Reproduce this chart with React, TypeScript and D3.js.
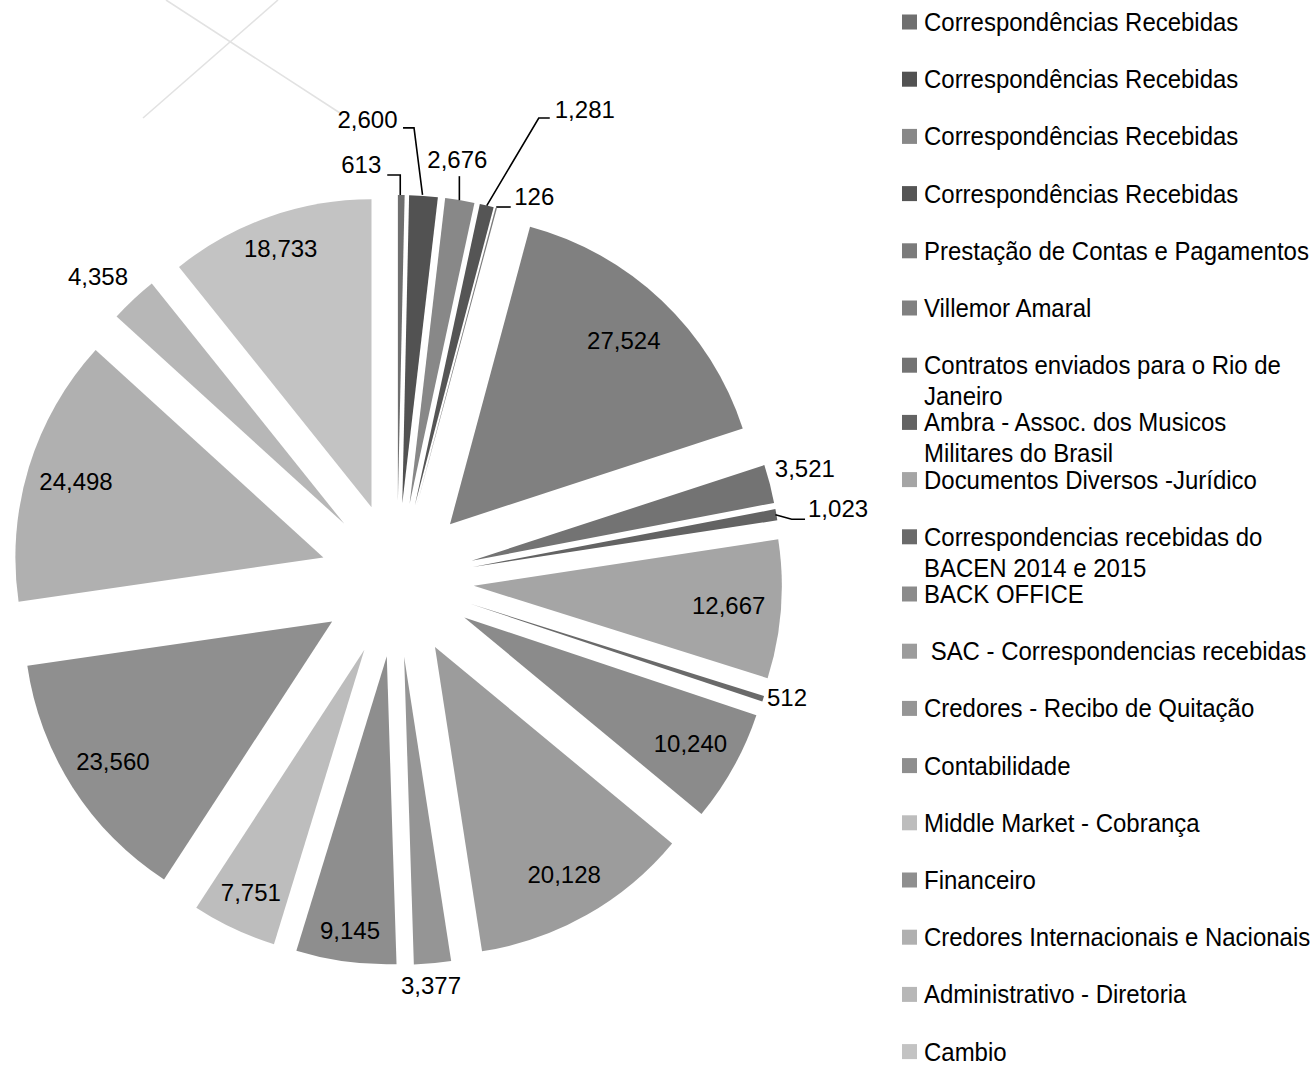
import React from "react";
import * as d3 from "d3";

// ---------- data ----------
const categories: string[] = [
  "Correspondências Recebidas",
  "Correspondências Recebidas",
  "Correspondências Recebidas",
  "Correspondências Recebidas",
  "Prestação de Contas e Pagamentos",
  "Villemor Amaral",
  "Contratos enviados para o Rio de Janeiro",
  "Ambra - Assoc. dos Musicos Militares do Brasil",
  "Documentos Diversos -Jurídico",
  "Correspondencias recebidas do BACEN 2014 e 2015",
  "BACK OFFICE",
  " SAC - Correspondencias recebidas",
  "Credores - Recibo de Quitação",
  "Contabilidade",
  "Middle Market - Cobrança",
  "Financeiro",
  "Credores Internacionais e Nacionais",
  "Administrativo - Diretoria",
  "Cambio",
];

const values: number[] = [
  613, 2600, 2676, 1281, 126, 27524, 3521, 1023, 12667, 512, 10240, 20128,
  3377, 9145, 7751, 23560, 24498, 4358, 18733,
];

// legend lines (wrapped as in the reference)
const legendLines: string[][] = [
  ["Correspondências Recebidas"],
  ["Correspondências Recebidas"],
  ["Correspondências Recebidas"],
  ["Correspondências Recebidas"],
  ["Prestação de Contas e Pagamentos"],
  ["Villemor Amaral"],
  ["Contratos enviados para o Rio de", "Janeiro"],
  ["Ambra - Assoc. dos Musicos", "Militares do Brasil"],
  ["Documentos Diversos -Jurídico"],
  ["Correspondencias recebidas do", "BACEN 2014 e 2015"],
  ["BACK OFFICE"],
  [" SAC - Correspondencias recebidas"],
  ["Credores - Recibo de Quitação"],
  ["Contabilidade"],
  ["Middle Market - Cobrança"],
  ["Financeiro"],
  ["Credores Internacionais e Nacionais"],
  ["Administrativo - Diretoria"],
  ["Cambio"],
];

// ---------- styles ----------
const colors: string[] = [
  "#6f6f6f", "#525252", "#888888", "#555555", "#7b7b7b", "#808080",
  "#737373", "#636363", "#a5a5a5", "#6a6a6a", "#8b8b8b", "#9c9c9c",
  "#959595", "#8e8e8e", "#bdbdbd", "#8f8f8f", "#b0b0b0", "#b7b7b7", "#c3c3c3",
];

type LabelSpec =
  | { kind: "in"; k: number }
  | { kind: "out"; tx: number; ty: number; anchor: string; pts?: number[][] };

// label placement: inside -> fraction of radius from the exploded apex;
// outside -> offsets from the slice's outer-arc midpoint
const labelSpecs: LabelSpec[] = [
  { kind: "out", tx: -20, ty: -30, anchor: "end", pts: [[-1, 0], [-1, -20], [-14, -20]] },
  { kind: "out", tx: -26, ty: -76, anchor: "end", pts: [[-1, -1], [-9.5, -68], [-20.5, -68]] },
  { kind: "out", tx: -2.5, ty: -41, anchor: "middle", pts: [[-0.5, 0], [-0.5, -24]] },
  { kind: "out", tx: 68, ty: -96, anchor: "start", pts: [[0, 0], [52, -87.6], [63, -87.6]] },
  { kind: "out", tx: 18, ty: -11, anchor: "start", pts: [[0, -1], [14.5, -1]] },
  { kind: "in", k: 0.82 },
  { kind: "out", tx: 5, ty: -15, anchor: "start" },
  { kind: "out", tx: 31.6, ty: -5.7, anchor: "start", pts: [[-1, 0], [15.3, 4.6], [28.6, 4.6]] },
  { kind: "in", k: 0.83 },
  { kind: "out", tx: 3.8, ty: -0.8, anchor: "start" },
  { kind: "in", k: 0.84 },
  { kind: "in", k: 0.85 },
  { kind: "out", tx: -1.6, ty: 22.7, anchor: "middle" },
  { kind: "in", k: 0.9 },
  { kind: "in", k: 0.87 },
  { kind: "in", k: 0.845 },
  { kind: "in", k: 0.84 },
  { kind: "out", tx: -5.5, ty: -22.3, anchor: "end" },
  { kind: "in", k: 0.89 },
];

const W = 1314;
const H = 1066;
const CX = 397;
const CY = 580;
const R = 308;
const EXPLODE = 77;
const FONT = "'Liberation Sans', Arial, sans-serif";
const LEGEND_FONT = 25.5;
const LEGEND_SX = 0.94;

const fmt = d3.format(",");

export default function App() {
  const pie = d3
    .pie<number>()
    .sort(null)
    .value((d) => d)
    .startAngle(0)
    .endAngle(2 * Math.PI);
  const arcs = pie(values);
  const arcGen = d3.arc<d3.PieArcDatum<number>>().innerRadius(0).outerRadius(R);

  const legendX = 902;
  const legendY0 = 22;
  const legendStep = 57.2;

  return (
    <svg
      width={W}
      height={H}
      style={{ position: "absolute", left: 0, top: 0, background: "#fff" }}
      fontFamily={FONT}
    >
      {/* faint background decoration */}
      <line x1={143} y1={118} x2={278} y2={0} stroke="#e2e2e2" strokeWidth={1.6} />
      <line x1={166} y1={0} x2={340} y2={113} stroke="#e2e2e2" strokeWidth={1.6} />

      <g transform={`translate(${CX},${CY})`}>
        {arcs.map((a, i) => {
          const mid = (a.startAngle + a.endAngle) / 2;
          const ux = Math.sin(mid);
          const uy = -Math.cos(mid);
          return (
            <path
              key={i}
              d={arcGen(a) || ""}
              transform={`translate(${ux * EXPLODE},${uy * EXPLODE})`}
              fill={colors[i]}
            />
          );
        })}
        {arcs.map((a, i) => {
          const mid = (a.startAngle + a.endAngle) / 2;
          const ux = Math.sin(mid);
          const uy = -Math.cos(mid);
          const spec = labelSpecs[i];
          const text = fmt(values[i]);
          if (spec.kind === "in") {
            const x = ux * (EXPLODE + spec.k * R);
            const y = uy * (EXPLODE + spec.k * R);
            return (
              <text key={`l${i}`} x={x} y={y} dy="0.35em" textAnchor="middle" fontSize={24} fill="#000">
                {text}
              </text>
            );
          }
          const ox = ux * (EXPLODE + R);
          const oy = uy * (EXPLODE + R);
          return (
            <g key={`l${i}`}>
              {spec.pts && (
                <polyline
                  points={spec.pts.map((p) => `${ox + p[0]},${oy + p[1]}`).join(" ")}
                  fill="none"
                  stroke="#000"
                  strokeWidth={1.6}
                />
              )}
              <text
                x={ox + spec.tx}
                y={oy + spec.ty}
                dy="0.35em"
                textAnchor={spec.anchor}
                fontSize={24}
                fill="#000"
              >
                {text}
              </text>
            </g>
          );
        })}
      </g>

      <g>
        {categories.map((c, i) => {
          const cy = legendY0 + i * legendStep;
          return (
            <g key={`g${i}`}>
              <rect x={legendX} y={cy - 7.5} width={15} height={15} fill={colors[i]} />
              {legendLines[i].map((ln, j) => (
                <text
                  key={j}
                  transform={`translate(${legendX + 22},${cy + j * 31}) scale(${LEGEND_SX},1)`}
                  dy="0.35em"
                  fontSize={LEGEND_FONT}
                  fill="#000"
                  style={{ whiteSpace: "pre" }}
                >
                  {ln}
                </text>
              ))}
            </g>
          );
        })}
      </g>
    </svg>
  );
}
